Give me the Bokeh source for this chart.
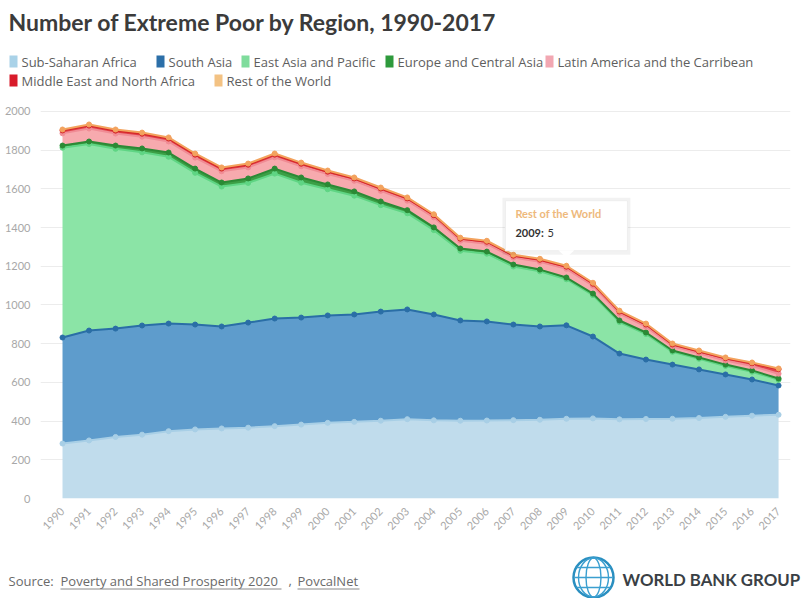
from math import pi

from bokeh.core.properties import value
from bokeh.embed import file_html
from bokeh.layouts import column, row
from bokeh.models import ColumnDataSource, FixedTicker, Range1d
from bokeh.plotting import figure
from bokeh.resources import INLINE
from bokeh.transform import stack

# ---- data: people in extreme poverty, millions ----
years = list(range(1990, 2018))
sub_saharan_africa = [284, 300, 318, 330, 348, 357, 362, 366, 374, 382, 391, 396, 402, 410,
                      404, 402, 403, 405, 407, 412, 414, 409, 411, 412, 416, 422, 428, 433]
south_asia = [548, 568, 560, 564, 556, 542, 527, 543, 556, 553, 555, 555, 564, 567,
              547, 518, 512, 494, 482, 483, 423, 340, 307, 280, 251, 219, 187, 151]
east_asia_pacific = [981, 964, 929, 895, 862, 784, 723, 722, 749, 697, 652, 614, 550, 497,
                     436, 360, 350, 300, 285, 238, 214, 163, 132, 66, 55, 44, 40, 29]
europe_central_asia = [11, 13, 17, 20, 22, 22, 21, 23, 26, 27, 25, 22, 19, 16,
                       14, 12, 11, 10, 9, 9, 8, 8, 8, 7, 7, 7, 7, 7]
latin_america = [63, 67, 62, 61, 57, 57, 58, 57, 58, 58, 54, 55, 55, 49,
                 52, 40, 40, 36, 40, 45, 41, 35, 30, 22, 21, 21, 23, 25]
middle_east = [15, 15, 15, 15, 15, 15, 14, 14, 14, 13, 12, 12, 12, 12,
               11, 11, 11, 10, 11, 11, 10, 11, 11, 9, 10, 12, 14, 23]
rest_of_world = [5, 6, 6, 6, 6, 6, 6, 6, 6, 6, 6, 5, 5, 5,
                 5, 5, 5, 5, 5, 5, 5, 5, 5, 5, 5, 4, 4, 4]

series_keys = ["ssa", "sa", "eap", "eca", "lac", "mena", "row"]
series_names = ["Sub-Saharan Africa", "South Asia", "East Asia and Pacific",
                "Europe and Central Asia", "Latin America and the Carribean",
                "Middle East and North Africa", "Rest of the World"]
y_ticks = list(range(0, 2001, 200))
highlight_year = 2009

# ---- styles ----
legend_colors = ["#a9d2e8", "#2c6fa8", "#7fdc9c", "#2e9a3c", "#f2a7b2", "#d81b2a", "#f3c283"]
area_colors = ["#c0dcec", "#5e9ccc", "#8be4a6", "#3c9f46", "#f7aaae", "#e0434d", "#f7c48a"]
line_colors = ["#a8cfe6", "#2a6ea6", "#5fd584", "#2b8a35", "#f08c95", "#d62728", "#f3a35e"]
LATO = value("Lato")
OPEN = value("Open Sans")

source = ColumnDataSource(dict(
    year=years, ssa=sub_saharan_africa, sa=south_asia, eap=east_asia_pacific,
    eca=europe_central_asia, lac=latin_america, mena=middle_east, row=rest_of_world,
))

W = 804


def blank(height):
    """A bare canvas whose data units are pixels, y growing downwards."""
    f = figure(width=W, height=height, x_range=Range1d(0, W), y_range=Range1d(height, 0),
               x_axis_type=None, y_axis_type=None, toolbar_location=None,
               output_backend="svg", min_border=0)
    f.grid.visible = False
    f.outline_line_color = None
    return f


# ---- header: title and legend ----
header = blank(100)
header.text(x=[8], y=[21], text=["Number of Extreme Poor by Region, 1990-2017"],
            text_font=LATO, text_font_style="bold", text_font_size="23px",
            text_color="#3b3b3b", text_baseline="middle")

legend_x = [9, 156, 241, 385, 545, 9, 214]
legend_y = [61, 61, 61, 61, 61, 80, 80]
header.quad(left=legend_x, right=[x + 8 for x in legend_x],
            top=[y - 6 for y in legend_y], bottom=[y + 6 for y in legend_y],
            fill_color=legend_colors, line_color=None)
header.text(x=[x + 12 for x in legend_x], y=legend_y, text=series_names,
            text_font=OPEN, text_font_size="13px", text_color="#5e5e5e",
            text_baseline="middle")

# ---- main stacked area chart ----
X0, X1 = 1989.17, 2017.45
Y0, Y1 = 0, 2031
p = figure(width=W, height=450, x_range=Range1d(X0, X1), y_range=Range1d(Y0, Y1),
           toolbar_location=None, output_backend="svg",
           min_border_left=40, min_border_right=14, min_border_top=5, min_border_bottom=52)
p.outline_line_color = None
p.xgrid.grid_line_color = None
p.ygrid.grid_line_color = "#ececec"
p.ygrid.ticker = FixedTicker(ticks=y_ticks)

p.varea_stack(stackers=series_keys, x="year", color=area_colors, source=source)
for i, key in enumerate(series_keys):
    top = stack(*series_keys[: i + 1])
    p.line(x="year", y=top, source=source, line_color=line_colors[i], line_width=2)
    p.scatter(x="year", y=top, source=source, size=5, fill_color=line_colors[i],
              line_color=line_colors[i])

p.yaxis.ticker = FixedTicker(ticks=y_ticks)
p.xaxis.ticker = FixedTicker(ticks=years)
for ax in (p.xaxis, p.yaxis):
    ax.axis_line_color = None
    ax.major_tick_line_color = None
    ax.minor_tick_line_color = None
    ax.major_label_text_font = "Lato"
    ax.major_label_text_color = "#a8a8a8"
p.yaxis.major_label_text_font_size = "11px"
p.yaxis.major_label_standoff = 4
p.xaxis.major_label_text_font_size = "11px"
p.xaxis.major_label_orientation = pi / 4
p.xaxis.major_label_standoff = 5

# callout on the top series
hi = years.index(highlight_year)
anchor_y = sum(col[hi] for col in (sub_saharan_africa, south_asia, east_asia_pacific,
                                   europe_central_asia, latin_america, middle_east,
                                   rest_of_world))
px_per_year = 750 / (X1 - X0)
px_per_unit = 393 / (Y1 - Y0)
dx = lambda px: px / px_per_year
dy = lambda px: px / px_per_unit
bx0, bx1 = highlight_year - dx(61), highlight_year + dx(61)
by0, by1 = anchor_y + dy(15), anchor_y + dy(65)
p.quad(left=[bx0 - dx(3)], right=[bx1 + dx(3)], bottom=[by0 - dy(4)], top=[by1 + dy(3)],
       fill_color="#000000", fill_alpha=0.05, line_color=None)
p.quad(left=[bx0], right=[bx1], bottom=[by0], top=[by1],
       fill_color="white", line_color="#eeeeee", line_width=1)
p.patch(x=[highlight_year - dx(8), highlight_year + dx(8), highlight_year],
        y=[by0 + dy(0.5), by0 + dy(0.5), by0 - dy(7)], fill_color="white", line_color=None)
p.text(x=[bx0 + dx(10)], y=[by1 - dy(13)], text=[series_names[-1]], text_font=LATO,
       text_font_style="bold", text_font_size="11px", text_color="#eeb97c",
       text_baseline="middle")
p.text(x=[bx0 + dx(10)], y=[by1 - dy(32)], text=[f"{highlight_year}:"], text_font=LATO,
       text_font_style="bold", text_font_size="11px", text_color="#333333",
       text_baseline="middle")
p.text(x=[bx0 + dx(42)], y=[by1 - dy(32)], text=[f"{rest_of_world[hi]}"], text_font=LATO,
       text_font_size="11px", text_color="#333333", text_baseline="middle")

# ---- footer: source and logo ----
footer = blank(48)
src_parts = ["Source:", "Poverty and Shared Prosperity 2020", ",", "PovcalNet"]
src_x = [8, 60, 288, 297]
footer.text(x=src_x, y=[30] * 4, text=src_parts, text_font=OPEN, text_font_size="13px",
            text_color="#6a6a6a", text_baseline="middle")
footer.segment(x0=[60, 297], x1=[281, 359], y0=[38.5, 38.5], y1=[38.5, 38.5],
               line_color="#8a8a8a", line_width=1)

# globe emblem
gx, gy = 593, 27
footer.circle(x=[gx], y=[gy], radius=20, fill_color=None, line_color="#2a8fc0",
              line_width=2.5)
footer.ellipse(x=[gx, gx], y=[gy, gy], width=[15, 30], height=[39, 39], fill_color=None,
               line_color="#3b9fd0", line_width=1.4)
footer.segment(x0=[gx - 17, gx - 19, gx - 17], x1=[gx + 17, gx + 19, gx + 17],
               y0=[gy - 10, gy, gy + 10], y1=[gy - 10, gy, gy + 10],
               line_color="#3b9fd0", line_width=1.3)
footer.text(x=[622], y=[29], text=["WORLD BANK GROUP"], text_font=LATO,
            text_font_style="bold", text_font_size="16.8px", text_color="#3a3f45",
            text_baseline="middle")

layout = column(row(header), p, row(footer), spacing=0)
open("out.html", "w").write(file_html(layout, INLINE))
